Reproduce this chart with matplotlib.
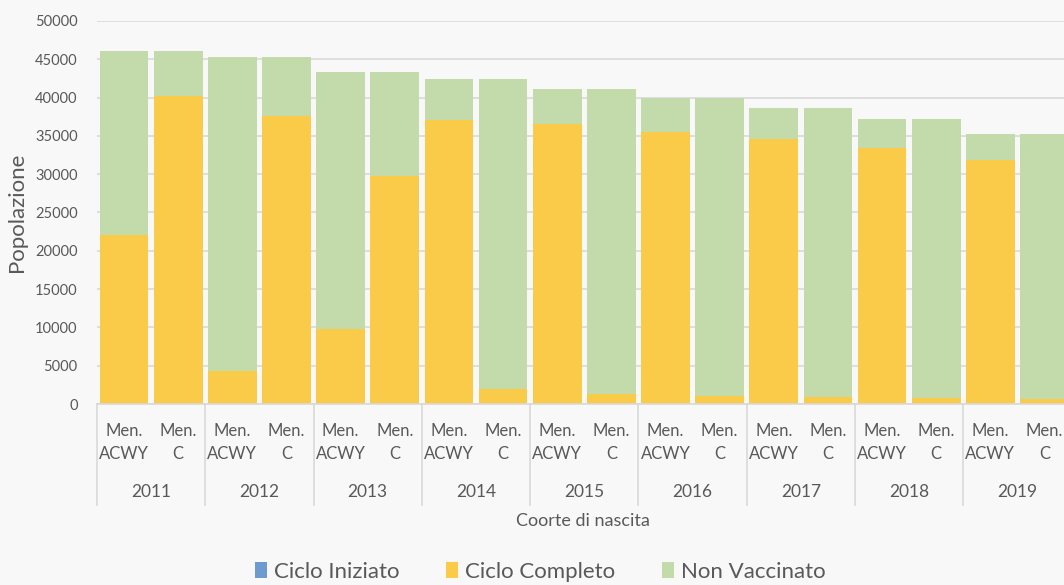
import matplotlib
matplotlib.use("Agg")
import matplotlib.pyplot as plt
import matplotlib.transforms as mtransforms
import numpy as np

plt.rcParams['font.family'] = ['Lato', 'DejaVu Sans']

years = ['2011', '2012', '2013', '2014', '2015', '2016', '2017', '2018', '2019']
vaccines = ['Men.\nACWY', 'Men.\nC']

# values per bar, ordered: year by year, ACWY then C
ciclo_iniziato = [0, 0, 0, 0, 0, 0, 0, 0, 0, 0, 0, 0, 0, 0, 0, 0, 0, 0]
ciclo_completo = [22000, 40200, 4300, 37600, 9800, 29700, 37100, 2000, 36500, 1300,
                  35500, 1100, 34600, 900, 33400, 750, 31900, 600]
totale = [46100, 46100, 45300, 45300, 43400, 43400, 42400, 42400, 41100, 41100,
          39900, 39900, 38700, 38700, 37200, 37200, 35300, 35300]
non_vaccinato = [t - c - i for t, c, i in zip(totale, ciclo_completo, ciclo_iniziato)]

c_blue = '#6d9bcf'
c_yellow = '#f9cb48'
c_green = '#c3dbab'
grey_txt = '#595959'

fig = plt.figure(figsize=(10.64, 5.85), dpi=100)
fig.patch.set_facecolor('#f8f8f8')
ax = fig.add_axes([97/1064, (585-404)/585, (1071.5-97)/1064, 383/585])
ax.set_facecolor('none')

x = np.arange(len(totale))
w = 0.9
ax.bar(x, ciclo_iniziato, w, color=c_blue, label='Ciclo Iniziato', zorder=2)
ax.bar(x, ciclo_completo, w, bottom=ciclo_iniziato, color=c_yellow, label='Ciclo Completo', zorder=2)
bottoms = [a + b for a, b in zip(ciclo_iniziato, ciclo_completo)]
ax.bar(x, non_vaccinato, w, bottom=bottoms, color=c_green, label='Non Vaccinato', zorder=2)

ax.set_xlim(-0.5, len(totale) - 0.5)
ax.set_ylim(0, 50000)
ax.set_yticks(np.arange(0, 50001, 5000))
ax.yaxis.grid(True, color='#d9d9d9', linewidth=1.2, zorder=0)
ax.set_axisbelow(True)
for s in ['top', 'right', 'left']:
    ax.spines[s].set_visible(False)
ax.spines['bottom'].set_color('#d9d9d9')
ax.spines['bottom'].set_linewidth(1.2)
ax.tick_params(axis='y', length=0, labelsize=10.5, labelcolor=grey_txt, pad=14)
ax.set_xticks([])

ax.set_ylabel('Popolazione', fontsize=16, color=grey_txt, labelpad=6)

trans = mtransforms.blended_transform_factory(ax.transData, ax.transAxes)
for i in range(len(totale)):
    ax.text(x[i], -0.1, vaccines[i % 2], transform=trans, ha='center', va='center',
            fontsize=12, color=grey_txt, linespacing=1.5, clip_on=False)
for j, yr in enumerate(years):
    ax.text(2*j + 0.5, -0.23, yr, transform=trans, ha='center', va='center',
            fontsize=12.5, color=grey_txt, clip_on=False)
for j in range(len(years) + 1):
    ax.plot([2*j - 0.5, 2*j - 0.5], [0, -0.265], transform=trans, color='#d9d9d9',
            linewidth=1.2, clip_on=False)

fig.text(583/1064, (585-521)/585, 'Coorte di nascita', ha='center', va='center',
         fontsize=13, color=grey_txt)

leg = fig.legend(loc='center', bbox_to_anchor=(540/1064, 13/585), ncol=3, frameon=False,
                 fontsize=16, handlelength=0.55, handleheight=0.7, handletextpad=0.3,
                 columnspacing=2.1, borderpad=0.0)
for t in leg.get_texts():
    t.set_color(grey_txt)

fig.savefig('out.png', dpi=100, facecolor=fig.get_facecolor())
